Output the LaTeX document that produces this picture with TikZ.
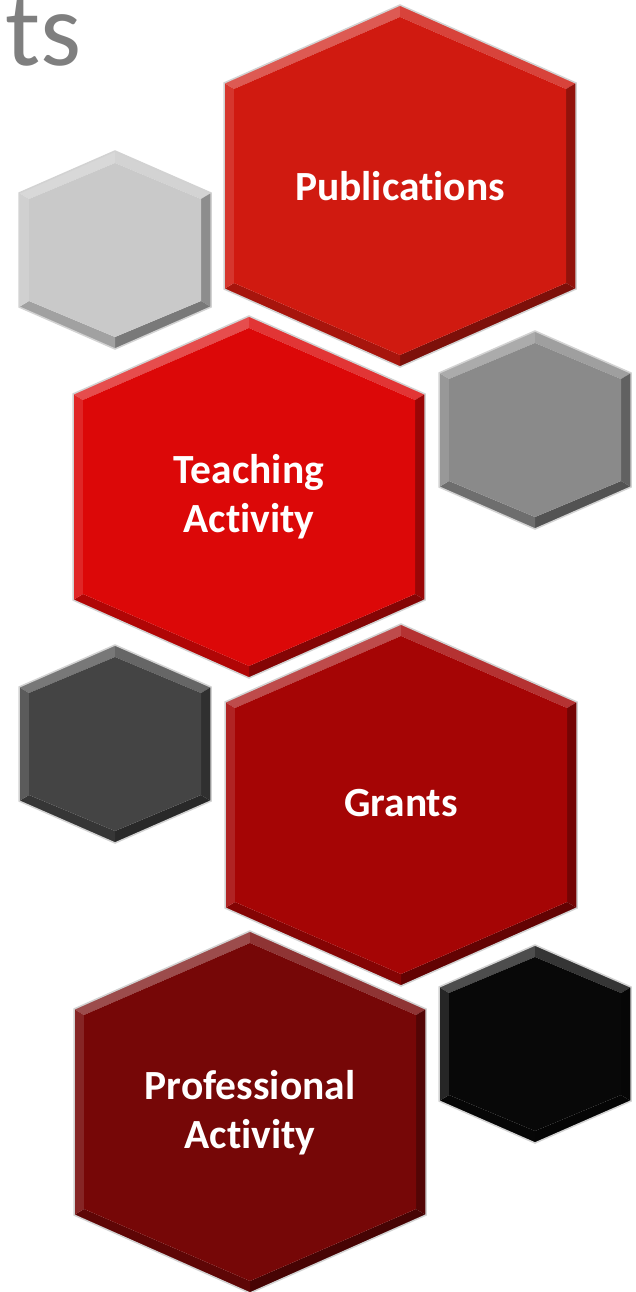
\documentclass[tikz,border=0pt]{standalone}
\usepackage{fontspec}
\setmainfont{Carlito}[Ligatures=NoCommon]
\usetikzlibrary{positioning}
\definecolor{pubred}{HTML}{D01A10}
\definecolor{teachred}{HTML}{DC0808}
\definecolor{grantred}{HTML}{A50505}
\definecolor{profred}{HTML}{760707}
\definecolor{lightgr}{HTML}{C9C9C9}
\definecolor{midgr}{HTML}{8A8A8A}
\definecolor{darkgr}{HTML}{444444}
\definecolor{blackhex}{HTML}{080808}
\definecolor{titlegr}{HTML}{7F7F7F}

% bevelled hexagon: centre, half width, half height, half side, colour
\newcommand{\hexcell}[5]{%
	\begin{scope}[shift={#1}]
		\coordinate (t) at (0,-#3); \coordinate (ur) at (#2,-#4); \coordinate (lr) at (#2,#4); \coordinate (b) at (0,#3); \coordinate (ll) at (-#2,#4); \coordinate (ul) at (-#2,-#4);
		\coordinate (it) at (0,-#3+12); \coordinate (iur) at (#2-10,-#4+6); \coordinate (ilr) at (#2-10,#4-6); \coordinate (ib) at (0,#3-12); \coordinate (ill) at (-#2+10,#4-6); \coordinate (iul) at (-#2+10,-#4+6);
		\fill[#5!72!white] (ul) -- (t) -- (it) -- (iul) -- cycle;
		\fill[#5!82!white] (t) -- (ur) -- (iur) -- (it) -- cycle;
		\fill[#5!70!black] (ur) -- (lr) -- (ilr) -- (iur) -- cycle;
		\fill[#5!60!black] (lr) -- (b) -- (ib) -- (ilr) -- cycle;
		\fill[#5!80!black] (b) -- (ll) -- (ill) -- (ib) -- cycle;
		\fill[#5!88!white] (ll) -- (ul) -- (iul) -- (ill) -- cycle;
		\fill[#5] (it) -- (iur) -- (ilr) -- (ib) -- (ill) -- (iul) -- cycle;
		\draw[gray!35, line width=1.5pt, line join=miter] (t) -- (ur) -- (lr) -- (b) -- (ll) -- (ul) -- cycle;
	\end{scope}}

\begin{document}
\begin{tikzpicture}[x=1pt, y=-1pt,
	hexlabel/.style={text=white, font=\fontsize{41.5}{49}\selectfont\bfseries, align=center, inner sep=0pt},
	titletext/.style={text=titlegr, font=\fontsize{105}{124}\selectfont, inner sep=0pt}]
	\useasboundingbox (0,0) rectangle (635,1292);

	\node[titletext, anchor=base east] (ts) at (82,66) {ts};

	% big cells
	\hexcell{(400,186)}{176}{181}{103}{pubred}
	\hexcell{(249,497)}{176}{181}{103}{teachred}
	\hexcell{(401,805)}{176}{181}{103}{grantred}
	\hexcell{(250,1112)}{176}{181}{103}{profred}

	% small cells
	\hexcell{(115,250)}{96}{99}{57}{lightgr}
	\hexcell{(535,430)}{96}{99}{57}{midgr}
	\hexcell{(115,744)}{96}{99}{57}{darkgr}
	\hexcell{(535,1044)}{96}{99}{57}{blackhex}

	\node[hexlabel] (pub) at (400,186) {Publications};
	\node[hexlabel] (teach) at (249,497) {Teaching\\Activity};
	\node[hexlabel] (grant) at (401,803) {Grants};
	\node[hexlabel] (prof) at (250,1113) {Professional\\Activity};
\end{tikzpicture}
\end{document}
